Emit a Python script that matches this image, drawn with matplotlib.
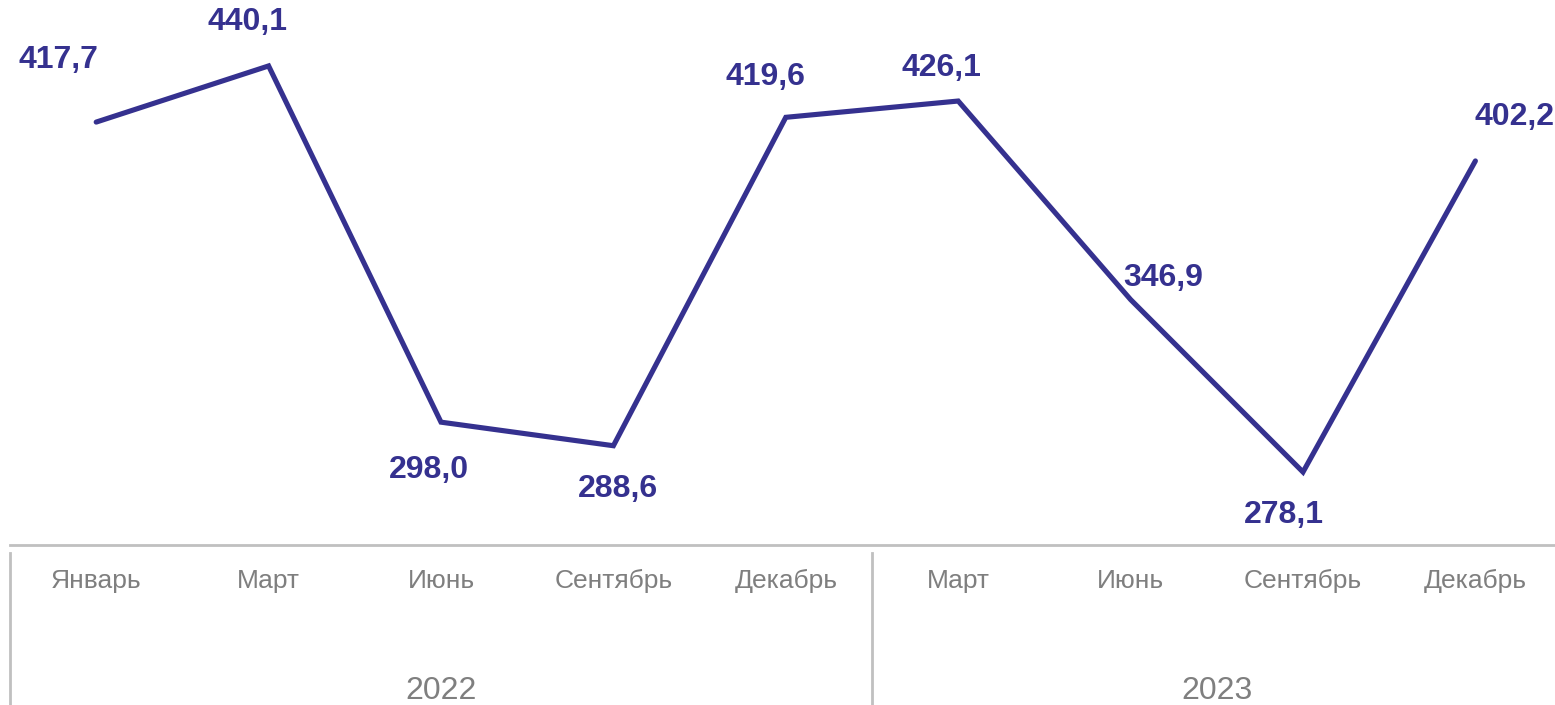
import matplotlib
matplotlib.use("Agg")
import matplotlib.pyplot as plt

months = ["Январь", "Март", "Июнь", "Сентябрь", "Декабрь",
          "Март", "Июнь", "Сентябрь", "Декабрь"]
values = [417.7, 440.1, 298.0, 288.6, 419.6, 426.1, 346.9, 278.1, 402.2]
years = ["2022", "2023"]
year_spans = [(0, 4), (5, 8)]

# label offsets in pixels (dx, dy), hand-tuned to the reference
label_offsets = [(-38, 62), (-21, 44), (-12, -48), (5, -43), (-20, 40),
                 (-17, 33), (33, 22), (-19, -43), (39, 44)]

LINE = "#35318f"
GREY = "#7f7f7f"
AXIS = "#c0c0c0"

plt.rcParams["font.family"] = ["Liberation Sans", "DejaVu Sans"]

W, H = 1555, 705
fig = plt.figure(figsize=(W / 100, H / 100), dpi=100)
ax = fig.add_axes([10 / W, 160 / H, 1551.6 / W, 545 / H])

x = list(range(len(values)))
ax.plot(x, values, color=LINE, linewidth=3.7, solid_capstyle="round",
        solid_joinstyle="miter")

for xi, v, (dx, dy) in zip(x, values, label_offsets):
    ax.annotate(f"{v:.1f}".replace(".", ","), (xi, v),
                xytext=(dx, dy), textcoords="offset pixels",
                ha="center", va="center", fontsize=23,
                fontweight="bold", color=LINE)

ax.set_xlim(-0.5, 8.5)
ax.set_ylim(249, 466.4)
for side in ["top", "right", "left"]:
    ax.spines[side].set_visible(False)
ax.spines["bottom"].set_color(AXIS)
ax.spines["bottom"].set_linewidth(2)
ax.set_yticks([])
ax.set_xticks(x)
ax.set_xticklabels(months, fontsize=19, color=GREY)
ax.tick_params(axis="x", length=0, pad=17)

# group separators and year labels below the axis
trans = ax.get_xaxis_transform()
for sep in [-0.5, 4.5]:
    ax.plot([sep, sep], [-0.015, -0.32], transform=trans, color=AXIS,
            linewidth=2, clip_on=False)
for label, (a, b) in zip(years, year_spans):
    ax.text((a + b) / 2, -0.268, label, transform=trans, ha="center",
            va="center", fontsize=23, color=GREY)

fig.savefig("out.png", dpi=100)
